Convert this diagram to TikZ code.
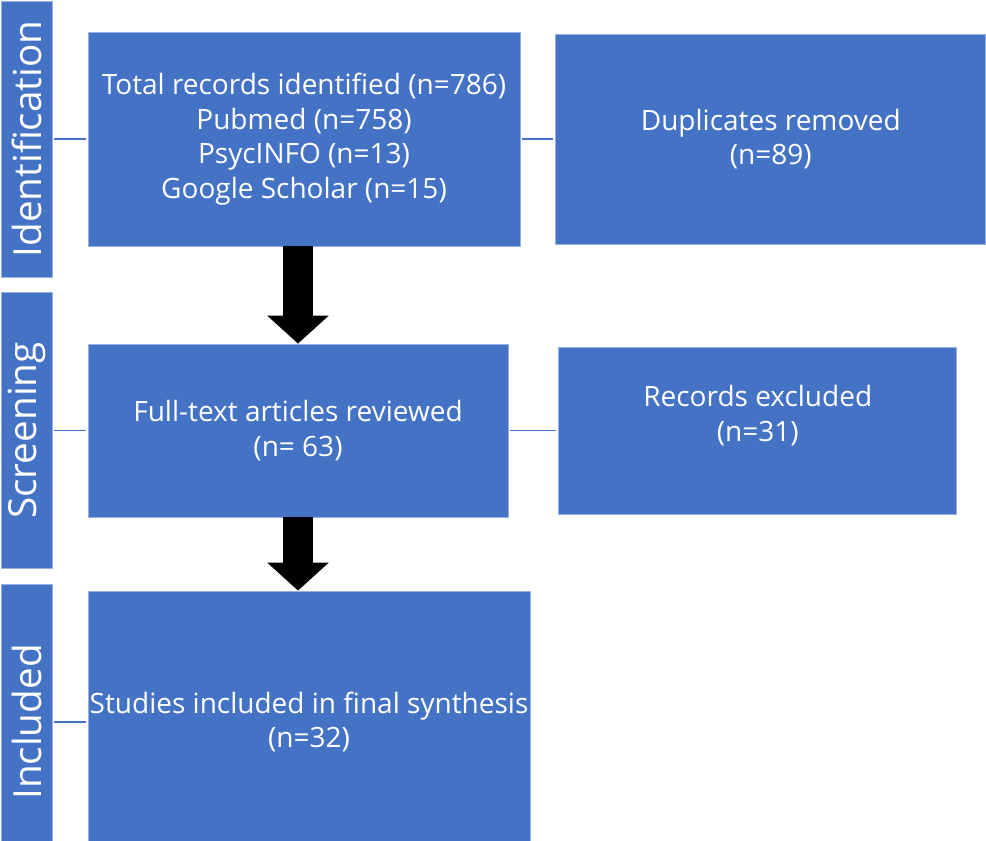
\documentclass[tikz,border=0pt]{standalone}
\usepackage{fontspec}
\setmainfont{Open Sans}
\usetikzlibrary{positioning, arrows.meta}
\definecolor{ofblue}{HTML}{4472C4}

\begin{document}
\begin{tikzpicture}[
  x=0.75pt, y=-0.75pt,
  blk/.style={draw=ofblue!55!white, line width=0.6pt, fill=ofblue, text=white,
              align=center, inner sep=0pt, font=\fontsize{21}{26}\selectfont},
  phase/.style={blk, rotate=90, minimum height=38.25pt, minimum width=207pt,
                font=\fontsize{29}{34}\selectfont},
  lbl/.style={text=white, align=center, font=\fontsize{21}{26}\selectfont},
  link/.style={draw=ofblue, line width=1.2pt},
  bigarr/.style={draw=black, line width=22.5pt, -{Triangle[length=21pt, width=45pt]}},
]
\useasboundingbox (0,0) rectangle (986,841);

%% ===== PHASE BARS =====

\node[phase] (pid)  at (26.5,139)   {Identification};
\node[phase] (pscr) at (26.5,430.5) {Screening};
\node[phase] (pinc) at (26.5,722)   {Included};

%% ===== BOXES =====

\node[blk, minimum width=324pt, minimum height=160.5pt] (ident) at (304,139)
    {Total records identified (n=786)\\Pubmed (n=758)\\PsycINFO (n=13)\\Google Scholar (n=15)};

\node[blk, minimum width=322.5pt, minimum height=157.5pt, right=26.25pt of ident] (dup)
    {Duplicates removed\\(n=89)};

\node[blk, minimum width=315pt, minimum height=129.75pt] (scr) at (298,430.5)
    {Full-text articles reviewed\\(n= 63)};

\node[blk, minimum width=298.5pt, minimum height=125.25pt, right=37.5pt of scr,
      label={[lbl, yshift=11pt]center:Records excluded\\(n=31)}] (excl) {};

\node[blk, minimum width=331.5pt, minimum height=196.5pt] (incl) at (309,722)
    {Studies included in final synthesis\\(n=32)};

%% ===== CONNECTORS =====

\draw[link] ([xshift=1.5pt]pid.south)  -- ([xshift=-1.5pt]ident.west);
\draw[link] ([xshift=1.5pt]pscr.south) -- ([xshift=-1.5pt]scr.west);
\draw[link] ([xshift=1.5pt]pinc.south) -- ([xshift=-1.5pt]incl.west);
\draw[link] ([xshift=1.5pt]ident.east) -- ([xshift=-1.5pt]dup.west);
\draw[link] ([xshift=1.5pt]scr.east)   -- ([xshift=-1.5pt]excl.west);

\draw[bigarr] (ident.south -| scr.north) -- (scr.north);
\draw[bigarr] (scr.south) -- (incl.north -| scr.south);

\end{tikzpicture}
\end{document}
